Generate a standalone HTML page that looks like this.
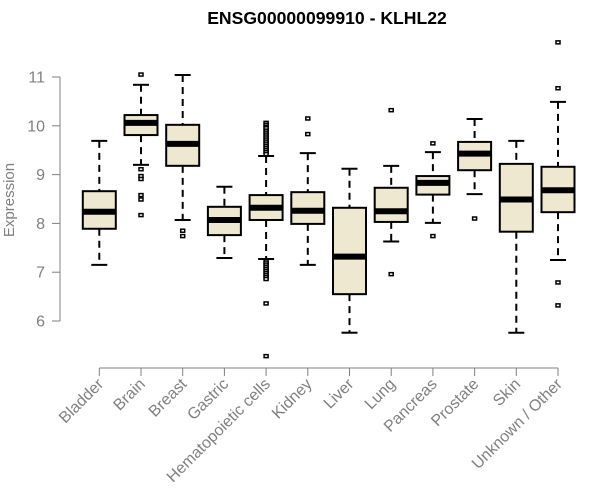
<!DOCTYPE html>
<html><head><meta charset="utf-8"><style>
body{margin:0;background:#fff;}
svg{display:block;font-family:"Liberation Sans",Arial,sans-serif;}
</style></head><body>
<svg id="chart" width="600" height="500">
<text x="327" y="24" text-anchor="middle" font-weight="bold" font-size="17.6" fill="#000">ENSG00000099910 - KLHL22</text>
<text transform="translate(14,200) rotate(-90)" text-anchor="middle" font-size="15" fill="#808080">Expression</text>
<g id="yaxis"></g>
<g id="xaxis"></g>
<g id="boxes"></g>
</svg>
<script>
const categories=["Bladder","Brain","Breast","Gastric","Hematopoietic cells","Kidney","Liver","Lung","Pancreas","Prostate","Skin","Unknown / Other"];
const whiskerLow=[7.15,9.20,8.07,7.29,7.27,7.15,5.76,7.63,8.01,8.60,5.76,7.25];
const q1=[7.89,9.81,9.18,7.76,8.07,7.99,6.55,8.03,8.59,9.09,7.83,8.23];
const medians=[8.24,10.06,9.63,8.07,8.32,8.26,7.32,8.25,8.83,9.43,8.49,8.68];
const q3=[8.66,10.22,10.02,8.34,8.58,8.64,8.32,8.73,8.97,9.67,9.22,9.16];
const whiskerHigh=[9.69,10.84,11.04,8.75,9.38,9.44,9.12,9.18,9.46,10.14,9.69,10.49];
const outliers=[[],[11.05,9.11,8.97,8.91,8.58,8.49,8.17],[7.85,7.74],[],
[10.06,10.02,9.98,9.95,9.9,9.86,9.82,9.78,9.74,9.7,9.66,9.62,9.58,9.54,9.5,9.46,9.42,7.22,7.18,7.14,7.1,7.06,7.02,6.98,6.94,6.9,6.86,6.36,5.28],
[10.15,9.83],[],[10.32,6.96],[9.64,7.74],[8.10],[],[11.71,10.77,6.79,6.32]];
const yTicks=[6,7,8,9,10,11];
const NS="http://www.w3.org/2000/svg";
function y(v){return 77+(11-v)*48.8;}
function x(i){return 99.3+i*41.7;}
function mk(tag,attrs,parent){const e=document.createElementNS(NS,tag);for(const k in attrs)e.setAttribute(k,attrs[k]);parent.appendChild(e);return e;}
const ya=document.getElementById('yaxis'),xa=document.getElementById('xaxis'),bx=document.getElementById('boxes');
mk('line',{x1:60,x2:60,y1:y(11),y2:y(6),stroke:'#808080','stroke-width':1},ya);
yTicks.forEach(t=>{
 const l=mk('line',{x1:52,x2:60,y1:y(t),y2:y(t),stroke:'#808080'},ya);
 
 
 const tx=mk('text',{x:45,y:y(t)+5.5,'text-anchor':'end','font-size':16,fill:'#808080'},ya);
 tx.textContent=t;
 
 
});
mk('line',{x1:x(0),x2:x(categories.length-1),y1:368,y2:368,stroke:'#808080'},xa);
categories.forEach((c,i)=>{
 const l=mk('line',{x1:x(i),x2:x(i),y1:368,y2:376,stroke:'#808080'},xa);
 
 
 const tx=mk('text',{transform:`translate(${x(i)+5},${385}) rotate(-45)`,'text-anchor':'end','font-size':16,fill:'#808080'},xa);
 tx.textContent=c;
 
 
 const g=mk('g',{},bx);
 
 
 const cx=x(i),hw=16.5,cw=8;
 mk('line',{x1:cx,x2:cx,y1:y(whiskerHigh[i]),y2:y(q3[i]),stroke:'#000','stroke-width':2,'stroke-dasharray':'7,5'},g);
 mk('line',{x1:cx,x2:cx,y1:y(q1[i]),y2:y(whiskerLow[i]),stroke:'#000','stroke-width':2,'stroke-dasharray':'7,5'},g);
 mk('line',{x1:cx-cw,x2:cx+cw,y1:y(whiskerHigh[i]),y2:y(whiskerHigh[i]),stroke:'#000','stroke-width':2},g);
 mk('line',{x1:cx-cw,x2:cx+cw,y1:y(whiskerLow[i]),y2:y(whiskerLow[i]),stroke:'#000','stroke-width':2},g);
 mk('rect',{x:cx-hw,y:y(q3[i]),width:hw*2,height:y(q1[i])-y(q3[i]),fill:'#ede8cf',stroke:'#000','stroke-width':2},g);
 mk('line',{x1:cx-hw,x2:cx+hw,y1:y(medians[i]),y2:y(medians[i]),stroke:'#000','stroke-width':6},g);
 outliers[i].forEach(v=>{
  const p=mk('rect',{x:cx-2,y:y(v)-1.5,width:4,height:3,fill:'#fff',stroke:'#000','stroke-width':1.5},g);
  
  
 });
});
</script>
</body></html>
